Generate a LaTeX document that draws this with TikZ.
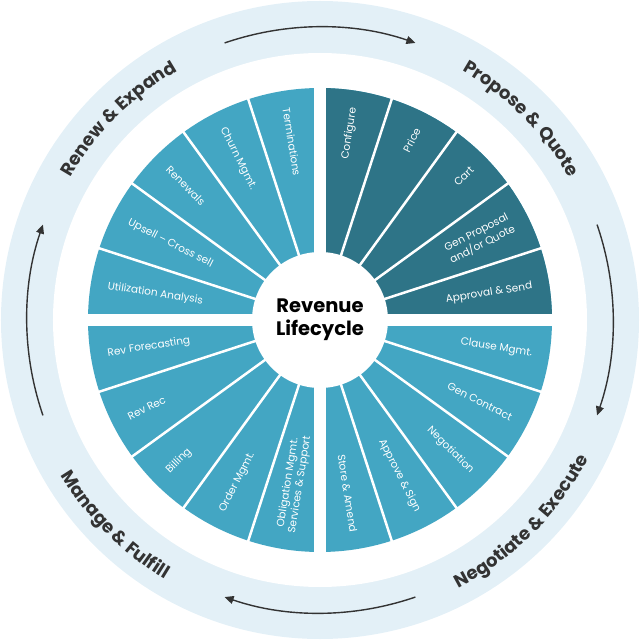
\documentclass[tikz,border=0pt]{standalone}
\usepackage{fontspec}
\setmainfont{Poppins}
\usetikzlibrary{arrows.meta,decorations.text}

\definecolor{ringblue}{HTML}{E3F0F7}
\definecolor{tealdark}{HTML}{2E7487}
\definecolor{teallight}{HTML}{43A6C3}
\definecolor{inkgray}{HTML}{333333}

\tikzset{
  wlabel/.style={text=white, font=\fontsize{10.5}{12}\selectfont, align=center, inner sep=1pt},
  cyclearrow/.style={inkgray, line width=1.4pt, -{Triangle[length=9pt,width=8pt]}},
  phase/.style={decorate, decoration={text along path, text align=center, text color=inkgray,
    text={|\fontsize{18}{18}\selectfont\bfseries|#1}}}
}

\begin{document}
\begin{tikzpicture}[x=1pt,y=1pt]
  \useasboundingbox (-320,-320) rectangle (320,320);

  % outer ring
  \fill[ringblue] (0,0) circle (319);
  \fill[white] (0,0) circle (267);

  % cycle arrows, clockwise
  \foreach \m in {90,0,-90,-180}
    \draw[cyclearrow] (\m+19:293) arc[start angle=\m+19, end angle=\m-19, radius=293];

  % phase labels along the ring
  \path[phase={Renew {\&} Expand}] (175:287) arc[start angle=175, end angle=95, radius=287];
  \path[phase={Propose {\&} Quote}] (85:287) arc[start angle=85, end angle=5, radius=287];
  \path[phase={Negotiate {\&} Execute}] (-85:302) arc[start angle=-85, end angle=-5, radius=302];
  \path[phase={Manage {\&} Fulfill}] (185:302) arc[start angle=185, end angle=265, radius=302];

  % wheel: four quadrants, five wedges each
  \fill[teallight] (0,0) circle (232);
  \fill[tealdark] (0,0) -- (0:232) arc[start angle=0, end angle=90, radius=232] -- cycle;
  \foreach \a in {18,36,...,342}
    \draw[white, line width=2.5pt] (0,0) -- (\a:234);
  \foreach \a in {0,90}
    \draw[white, line width=12pt] (\a+180:234) -- (\a:234);

  % hub
  \fill[white] (0,0) circle (68);
  \node[font=\fontsize{19.5}{23}\selectfont\bfseries, align=center] (hub) at (0,0) {Revenue\\Lifecycle};

  % wedge labels, right half (read outwards)
  \foreach \a/\t [count=\i] in {81/Configure, 63/Price, 45/Cart, 27/{Gen Proposal\\and/or Quote},
      9/{Approval \& Send}, -9/{Clause Mgmt.}, -27/{Gen Contract}, -45/Negotiation,
      -63/{Approve \& Sign}, -81/{Store \& Amend}}
    \node[wlabel, anchor=east, rotate=\a] (r\i) at (\a:216) {\t};

  % wedge labels, left half (read inwards)
  \foreach \a/\t [count=\i] in {171/{Utilization Analysis}, 153/{Upsell -- Cross sell}, 135/Renewals,
      117/{Churn Mgmt.}, 99/Terminations, 189/{Rev Forecasting}, 207/{Rev Rec}, 225/Billing,
      243/{Order Mgmt.}, 261/{Obligation Mgmt.\\Services \& Support}}
    \node[wlabel, anchor=west, rotate=\a-180] (l\i) at (\a:216) {\t};
\end{tikzpicture}
\end{document}
